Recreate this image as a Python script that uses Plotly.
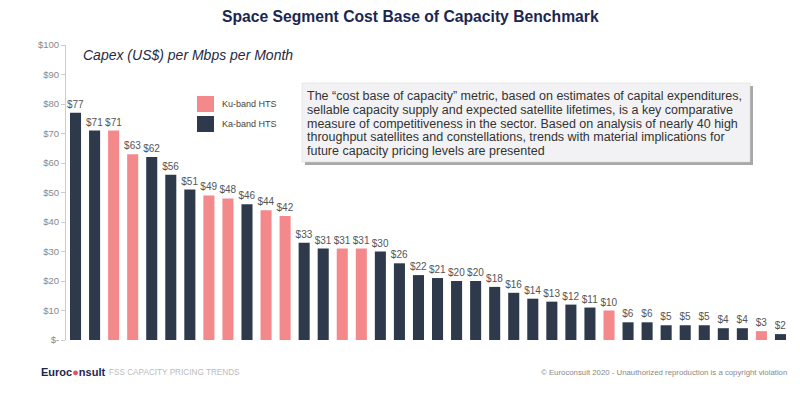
import plotly.graph_objects as go

values = [77, 71, 71, 63, 62, 56, 51, 49, 48, 46, 44, 42, 33, 31, 31, 31, 30, 26, 22, 21,
          20, 20, 18, 16, 14, 13, 12, 11, 10, 6, 6, 5, 5, 5, 4, 4, 3, 2]
bands = ["Ka", "Ka", "Ku", "Ku", "Ka", "Ka", "Ka", "Ku", "Ku", "Ka", "Ku", "Ku", "Ka", "Ka",
         "Ku", "Ku", "Ka", "Ka", "Ka", "Ka", "Ka", "Ka", "Ka", "Ka", "Ka", "Ka", "Ka", "Ka",
         "Ku", "Ka", "Ka", "Ka", "Ka", "Ka", "Ka", "Ka", "Ku", "Ka"]
categories = [f"Sat {i+1}" for i in range(len(values))]
tick_vals = [0, 10, 20, 30, 40, 50, 60, 70, 80, 90, 100]
tick_text = ["$-", "$10", "$20", "$30", "$40", "$50", "$60", "$70", "$80", "$90", "$100"]

KA = "#2e3a4c"
KU = "#f4898c"
colors = [KA if b == "Ka" else KU for b in bands]
labels = [f"${v}" for v in values]

W, H = 800, 394
L, R, T, B = 66, 10, 45, 54
PW, PH = W - L - R, H - T - B
FONT = "Liberation Sans, Arial"


def px(x):
    return (x - L) / PW


def py(y):
    return (H - B - y) / PH


fig = go.Figure(go.Bar(
    x=categories, y=values, marker=dict(color=colors, line=dict(width=0)),
    text=labels, textposition="outside", cliponaxis=False, constraintext="none",
    textfont=dict(size=10, color="#555555", family=FONT),
    outsidetextfont=dict(size=10, color="#555555", family=FONT),
    showlegend=False, hoverinfo="skip",
))

shapes = []
annotations = []

# legend
for i, (name, col) in enumerate([("Ku-band HTS", KU), ("Ka-band HTS", KA)]):
    y0 = 96 + i * 20
    shapes.append(dict(type="rect", xref="paper", yref="paper",
                       x0=px(197), x1=px(214), y0=py(y0 + 16), y1=py(y0),
                       fillcolor=col, line=dict(width=0)))
    annotations.append(dict(xref="paper", yref="paper", x=px(220), y=py(y0 + 8),
                            text=name, showarrow=False, xanchor="left", yanchor="middle",
                            font=dict(size=9, color="#444444", family=FONT)))

# text box with shadow
shapes.append(dict(type="rect", xref="paper", yref="paper",
                   x0=px(305), x1=px(753), y0=py(165), y1=py(86),
                   fillcolor="#a8a8a8", line=dict(width=0), layer="below"))
shapes.append(dict(type="rect", xref="paper", yref="paper",
                   x0=px(302), x1=px(750), y0=py(162), y1=py(83),
                   fillcolor="#f2f2f4", line=dict(width=0.5, color="#d6d6d6"), layer="below"))
box_lines = [
    "The \u201ccost base of capacity\u201d metric, based on estimates of capital expenditures,",
    "sellable capacity supply and expected satellite lifetimes, is a key comparative",
    "measure of competitiveness in the sector. Based on analysis of nearly 40 high",
    "throughput satellites and constellations, trends with material implications for",
    "future capacity pricing levels are presented",
]
for i, line in enumerate(box_lines):
    annotations.append(dict(xref="paper", yref="paper", x=px(305), y=py(96 + i * 13.8),
                            text=line, showarrow=False, xanchor="left", yanchor="middle",
                            font=dict(size=12.5, color="#333333", family=FONT)))

# title and subtitle
annotations.append(dict(xref="paper", yref="paper", x=px(410), y=py(17),
                        text="<b>Space Segment Cost Base of Capacity Benchmark</b>",
                        showarrow=False, xanchor="center", yanchor="middle",
                        font=dict(size=15.7, color="#1c2750", family=FONT)))
annotations.append(dict(xref="paper", yref="paper", x=px(81), y=py(55),
                        text="<i>Capex (US$) per Mbps per Month</i>",
                        showarrow=False, xanchor="left", yanchor="middle",
                        font=dict(size=14, color="#1f2a44", family=FONT)))

# footer
annotations.append(dict(xref="paper", yref="paper", x=px(39), y=py(372),
                        text="<b>Euroc<span style='color:#e8505b'>\u25cf</span>nsult</b>",
                        showarrow=False, xanchor="left", yanchor="middle",
                        font=dict(size=11, color="#1c2750", family=FONT)))
annotations.append(dict(xref="paper", yref="paper", x=px(107), y=py(372),
                        text="FSS CAPACITY PRICING TRENDS",
                        showarrow=False, xanchor="left", yanchor="middle",
                        font=dict(size=8.2, color="#bbbbbb", family=FONT)))
annotations.append(dict(xref="paper", yref="paper", x=px(789), y=py(372),
                        text="\u00a9 Euroconsult 2020 - Unauthorized reproduction is a copyright violation",
                        showarrow=False, xanchor="right", yanchor="middle",
                        font=dict(size=7.8, color="#888888", family=FONT)))

fig.update_layout(
    width=W, height=H, margin=dict(l=L, r=R, t=T, b=B),
    paper_bgcolor="white", plot_bgcolor="white",
    bargap=0.42,
    xaxis=dict(showticklabels=False, showgrid=False, zeroline=False, showline=False,
               ticks="", range=[-0.5, len(values) - 0.5], fixedrange=True),
    yaxis=dict(range=[0, 100], tickvals=tick_vals, ticktext=tick_text,
               showgrid=False, zeroline=False, showline=True, linecolor="#cccccc",
               linewidth=1, ticks="outside", ticklen=4, tickcolor="#cccccc",
               tickfont=dict(size=9.5, color="#888888", family=FONT),
               fixedrange=True, automargin=False),
    shapes=shapes, annotations=annotations,
    font=dict(family=FONT),
)

fig.write_html("out.html", config={"displayModeBar": False},
               post_script="document.body.style.margin='0';document.body.style.overflow='hidden';")
